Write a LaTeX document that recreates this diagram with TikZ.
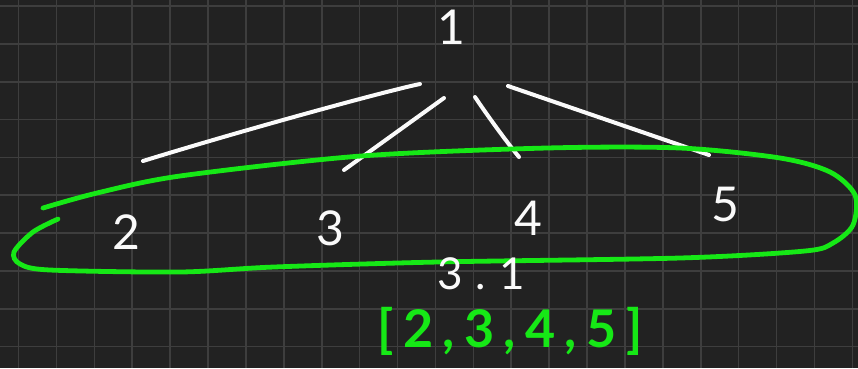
\documentclass[tikz,border=0pt]{standalone}
\usepackage{fontspec}
\setmainfont{Lato}
\usepackage{tikz}
\usetikzlibrary{calc}
\definecolor{boardcolor}{RGB}{34,34,34}
\definecolor{gridcolor}{RGB}{62,62,62}
\definecolor{chalkcolor}{RGB}{250,250,250}
\definecolor{markcolor}{RGB}{22,232,22}

\begin{document}
\begin{tikzpicture}[
    x=1pt, y=-1pt,
    gridline/.style={draw=gridcolor, line width=1.6pt},
    digit/.style={inner sep=0pt, text=chalkcolor, font=\fontsize{48}{52}\selectfont},
    note/.style={inner sep=0pt, font=\fontsize{44}{48}\selectfont\addfontfeature{LetterSpace=30}},
    edge/.style={draw=chalkcolor, line width=4pt, line cap=round},
    loop/.style={draw=markcolor, line width=4.8pt, line cap=round}
]
    % Board
    \useasboundingbox (0,0) rectangle (858,368);
    \fill[boardcolor] (0,0) rectangle (858,368);
    \foreach \k in {0,...,22}
        \draw[gridline] ({18.5+37.9*\k},0) -- ({18.5+37.9*\k},368);
    \foreach \k in {0,...,9}
        \draw[gridline] (0,{6+37.85*\k}) -- (858,{6+37.85*\k});

    % Tree
    \node[digit] (n1) at (451,27) {1};
    \node[digit] (n2) at (126,232) {2};
    \node[digit] (n3) at (330,228) {3};
    \node[digit] (n4) at (528,218) {4};
    \node[digit] (n5) at (725,204) {5};

    % Edges
    \draw[edge] ([shift={(-31,57)}]n1.center) .. controls +(-30,6) and +(107,-33) .. ([shift={(17,-71)}]n2.center);
    \draw[edge] ([shift={(-7,71)}]n1.center) -- ([shift={(14,-58)}]n3.center);
    \draw[edge] ([shift={(24,70)}]n1.center) .. controls +(10,15) and +(-14,-17) .. ([shift={(-9,-61)}]n4.center);
    \draw[edge] ([shift={(57,59)}]n1.center) -- ([shift={(-16,-49)}]n5.center);

    % Loop round the children
    \draw[loop] plot[smooth] coordinates {(43,208) (97,193) (180,176) (361,156) (547,148) (680,148)
        (780,158) (830,172) (855,195) (853,225) (833,243) (805,251) (680,258) (438,262) (274,267)
        (180,272) (50,270) (20,264) (14,252) (33,232) (58,219)};

    % Notes
    \node[note, text=chalkcolor] (level) at (481,274) {3.1};
    \node[note, text=markcolor, font=\fontsize{52}{56}\selectfont\bfseries\addfontfeature{LetterSpace=18}] (list) at (510,331) {[2,3,4,5]};
\end{tikzpicture}
\end{document}
